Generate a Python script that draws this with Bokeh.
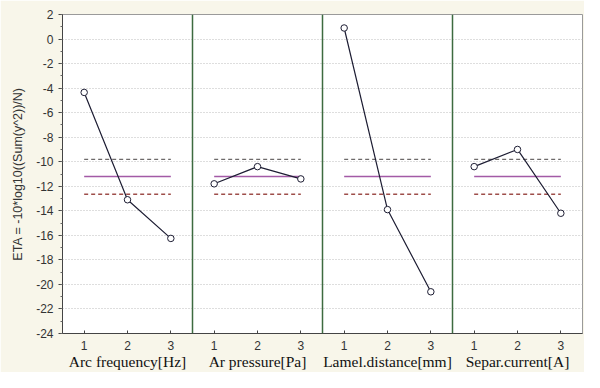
import numpy as np
from bokeh.plotting import figure
from bokeh.models import (FixedTicker, LinearAxis, Span, ColumnDataSource, Range1d)
from bokeh.embed import file_html
from bokeh.resources import INLINE

# ---- data ----
levels = [1, 2, 3]
factor_names = ["Arc frequency[Hz]", "Ar pressure[Pa]", "Lamel.distance[mm]", "Separ.current[A]"]
arc_frequency = [-4.35, -13.1, -16.25]
ar_pressure = [-11.8, -10.4, -11.4]
lamel_distance = [0.9, -13.9, -20.6]
separ_current = [-10.4, -9.0, -14.2]
upper_limit = -9.8
lower_limit = -12.65
y_ticks = list(range(-24, 3, 2))

series = [arc_frequency, ar_pressure, lamel_distance, separ_current]
grand_mean = float(np.mean(np.concatenate(series)))
n_lev = len(levels)

p = figure(width=584, height=372, output_backend="svg", toolbar_location=None,
           x_range=Range1d(0.5, n_lev * len(series) + 0.5), y_range=Range1d(-24, 2),
           min_border_left=62, min_border_right=2, min_border_top=14, min_border_bottom=0)
p.background_fill_color = "white"
p.border_fill_color = "#f8f6ea"
p.outline_line_color = "#9a9a9a"

# grid
p.xgrid.visible = False
p.ygrid.ticker = FixedTicker(ticks=y_ticks)
p.ygrid.grid_line_color = "#bdbdbd"
p.ygrid.grid_line_dash = "1 2"
p.ygrid.grid_line_width = 1

# y axis
ya = p.yaxis[0]
ya.ticker = FixedTicker(ticks=y_ticks, minor_ticks=list(range(-24, 3, 1)))
ya.major_label_overrides = {t: str(t) for t in y_ticks}
ya.axis_label = "ETA = -10*log10((Sum(y^2))/N)"
ya.axis_label_text_font = "Liberation Sans"
ya.axis_label_text_font_style = "normal"
ya.axis_label_text_font_size = "12.5px"
ya.axis_label_text_color = "#333333"
ya.axis_label_standoff = 8
ya.major_label_text_font = "Liberation Sans"
ya.major_label_text_font_size = "12px"
ya.major_label_text_color = "#333333"
ya.major_label_standoff = 5
ya.major_tick_out = 4
ya.major_tick_in = 0
ya.minor_tick_out = 2
ya.minor_tick_in = 0
ya.axis_line_color = "#444444"
ya.major_tick_line_color = "#444444"
ya.minor_tick_line_color = "#666666"

# x axis (level numbers)
xs_all = [k * n_lev + lv for k in range(len(series)) for lv in levels]
xa = p.xaxis[0]
xa.ticker = FixedTicker(ticks=xs_all)
xa.major_label_overrides = {x: str(levels[i % n_lev]) for i, x in enumerate(xs_all)}
xa.major_label_text_font = "Liberation Sans"
xa.major_label_text_font_size = "12px"
xa.major_label_text_color = "#333333"
xa.major_label_standoff = 7
xa.major_tick_out = 0
xa.major_tick_in = 3
xa.minor_tick_line_color = None
xa.axis_line_color = "#444444"
xa.major_tick_line_color = "#444444"

# factor names axis
centers = [k * n_lev + levels[len(levels) // 2] for k in range(len(series))]
ga = LinearAxis(ticker=FixedTicker(ticks=centers),
                major_label_overrides={c: factor_names[k] for k, c in enumerate(centers)})
ga.major_label_text_font = "Liberation Serif"
ga.major_label_text_font_size = "15.5px"
ga.major_label_text_color = "#111111"
ga.major_label_standoff = 0
ga.major_tick_out = 0
ga.major_tick_in = 0
ga.minor_tick_line_color = None
ga.axis_line_color = None
ga.major_tick_line_color = None
p.add_layout(ga, "below")

# panel dividers
for k in range(1, len(series)):
    p.add_layout(Span(location=k * n_lev + 0.5, dimension="height",
                      line_color="#3d6b40", line_width=1.5))

# mean and limit lines per panel
x0s = [k * n_lev + levels[0] for k in range(len(series))]
x1s = [k * n_lev + levels[-1] for k in range(len(series))]
p.segment(x0=x0s, x1=x1s, y0=[upper_limit] * 4, y1=[upper_limit] * 4,
          line_color="#6e6a6a", line_width=1.3, line_dash="4 3")
p.segment(x0=x0s, x1=x1s, y0=[lower_limit] * 4, y1=[lower_limit] * 4,
          line_color="#9e4e4a", line_width=1.5, line_dash="4 3")
p.segment(x0=x0s, x1=x1s, y0=[grand_mean] * 4, y1=[grand_mean] * 4,
          line_color="#a35aa6", line_width=1.5)

# data lines and markers
for k, vals in enumerate(series):
    xs = [k * n_lev + lv for lv in levels]
    src = ColumnDataSource(dict(x=xs, y=vals))
    p.line("x", "y", source=src, line_color="#1d1d33", line_width=1.2)
    p.scatter("x", "y", source=src, size=6.5, marker="circle",
              fill_color="white", line_color="#1d1d33", line_width=1)

open("out.html", "w").write(file_html(p, INLINE))
